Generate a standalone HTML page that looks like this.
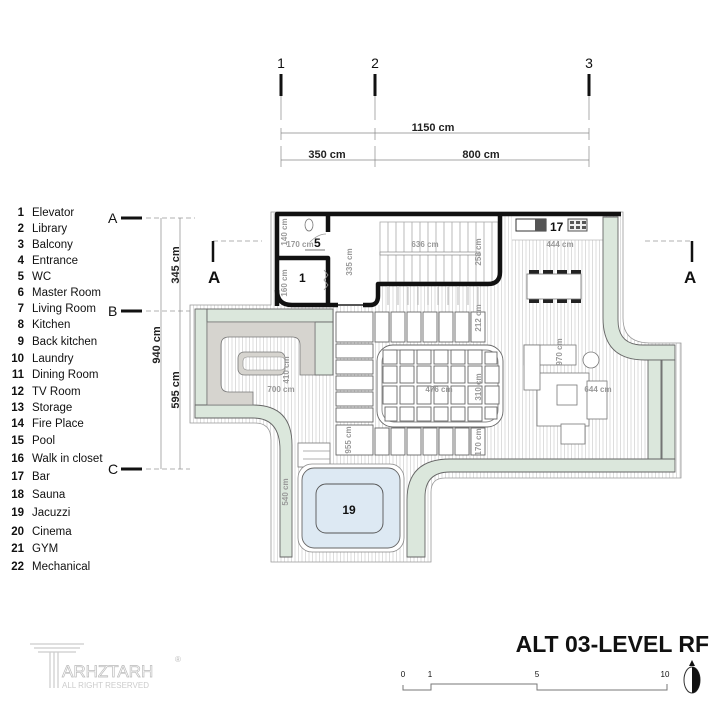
<!DOCTYPE html>
<html><head><meta charset="utf-8"><style>
html,body{margin:0;padding:0;background:#fff;}
svg{display:block;font-family:"Liberation Sans",Arial,sans-serif;}
</style></head><body>
<svg width="720" height="720" viewBox="0 0 720 720" xmlns="http://www.w3.org/2000/svg">
<defs>
<pattern id="h" width="3.5" height="10" patternUnits="userSpaceOnUse">
<rect width="3.5" height="10" fill="#fff"/><line x1="1" y1="0" x2="1" y2="10" stroke="#cfcfcf" stroke-width="0.7"/>
</pattern>
</defs>

<g font-size="14" text-anchor="middle" fill="#111">
<text x="281" y="68">1</text><text x="375" y="68">2</text><text x="589" y="68">3</text>
</g>
<g stroke="#111" stroke-width="3"><line x1="281" y1="74" x2="281" y2="96"/><line x1="375" y1="74" x2="375" y2="96"/><line x1="589" y1="74" x2="589" y2="96"/></g>
<g stroke="#888" stroke-width="0.7">
<line x1="281" y1="96" x2="281" y2="120"/><line x1="375" y1="96" x2="375" y2="120"/><line x1="589" y1="96" x2="589" y2="120"/>
<line x1="281" y1="128" x2="281" y2="140"/><line x1="375" y1="128" x2="375" y2="140"/><line x1="589" y1="128" x2="589" y2="140"/>
<line x1="281" y1="146" x2="281" y2="167"/><line x1="375" y1="146" x2="375" y2="167"/><line x1="589" y1="146" x2="589" y2="167"/>
<line x1="281" y1="133" x2="589" y2="133"/><line x1="281" y1="160" x2="589" y2="160"/>
</g>
<g font-size="11" font-weight="bold" text-anchor="middle" fill="#222">
<text x="433" y="131">1150 cm</text><text x="327" y="158">350 cm</text><text x="481" y="158">800 cm</text>
</g>

<g font-size="11.5" fill="#111">
<g font-weight="bold" text-anchor="end">
<text x="24" y="216">1</text><text x="24" y="232">2</text><text x="24" y="248">3</text><text x="24" y="264">4</text><text x="24" y="280">5</text><text x="24" y="296">6</text><text x="24" y="312">7</text><text x="24" y="328">8</text><text x="24" y="345">9</text><text x="24" y="362">10</text><text x="24" y="378">11</text><text x="24" y="395">12</text><text x="24" y="411">13</text><text x="24" y="427">14</text><text x="24" y="444">15</text><text x="24" y="462">16</text><text x="24" y="480">17</text><text x="24" y="498">18</text><text x="24" y="516">19</text><text x="24" y="535">20</text><text x="24" y="552">21</text><text x="24" y="570">22</text>
</g>
<text x="32" y="216">Elevator</text><text x="32" y="232">Library</text><text x="32" y="248">Balcony</text><text x="32" y="264">Entrance</text><text x="32" y="280">WC</text><text x="32" y="296">Master Room</text><text x="32" y="312">Living Room</text><text x="32" y="328">Kitchen</text><text x="32" y="345">Back kitchen</text><text x="32" y="362">Laundry</text><text x="32" y="378">Dining Room</text><text x="32" y="395">TV Room</text><text x="32" y="411">Storage</text><text x="32" y="427">Fire Place</text><text x="32" y="444">Pool</text><text x="32" y="462">Walk in closet</text><text x="32" y="480">Bar</text><text x="32" y="498">Sauna</text><text x="32" y="516">Jacuzzi</text><text x="32" y="535">Cinema</text><text x="32" y="552">GYM</text><text x="32" y="570">Mechanical</text>
</g>

<g font-size="14" fill="#111"><text x="108" y="223">A</text><text x="108" y="316">B</text><text x="108" y="474">C</text></g>
<g stroke="#111" stroke-width="3"><line x1="121" y1="218" x2="142" y2="218"/><line x1="121" y1="311" x2="142" y2="311"/><line x1="121" y1="469" x2="142" y2="469"/></g>
<g stroke="#999" stroke-width="0.7" stroke-dasharray="5,3"><line x1="146" y1="218" x2="195" y2="218"/><line x1="146" y1="311" x2="190" y2="311"/><line x1="146" y1="469" x2="190" y2="469"/></g>
<g stroke="#888" stroke-width="0.7"><line x1="161" y1="218" x2="161" y2="469"/><line x1="180" y1="218" x2="180" y2="469"/></g>
<g font-size="11" font-weight="bold" fill="#222" text-anchor="middle">
<text transform="translate(179,265) rotate(-90)">345 cm</text>
<text transform="translate(160,345) rotate(-90)">940 cm</text>
<text transform="translate(179,390) rotate(-90)">595 cm</text>
</g>

<g stroke="#999" stroke-width="0.8" stroke-dasharray="5,3"><line x1="213" y1="241" x2="262" y2="241"/><line x1="645" y1="241" x2="692" y2="241"/></g>
<g stroke="#111" stroke-width="2.5"><line x1="213" y1="241" x2="213" y2="262"/><line x1="692" y1="241" x2="692" y2="262"/></g>
<g font-size="17" font-weight="bold" fill="#111"><text x="208" y="283">A</text><text x="684" y="283">A</text></g>

<path d="M271,212 H623 V318 Q623,343 650,343 H681 V478 H445 Q431,478 431,492 V562 H271 V440 Q271,423 255,423 H190 V305 H271 Z" fill="url(#h)" stroke="#999" stroke-width="0.8"/>

<path d="M277,216 H500 V282 H380 V305 H277 Z" fill="#fff"/>
<rect x="512" y="216" width="92" height="24" fill="#fff"/>

<g stroke="#aaa" stroke-width="0.8">
<rect x="380" y="222" width="118" height="60" fill="#fff"/>
<path d="M388,222V282M396,222V282M404,222V282M412,222V282M420,222V282M428,222V282M436,222V282M444,222V282M452,222V282M460,222V282M468,222V282M476,222V282M484,222V282M492,222V282"/>
<path d="M388,287V305M398,287V305M408,287V305M418,287V305M428,287V305M438,287V305M448,287V305M458,287V305M468,287V305M478,287V305"/>
</g>
<rect x="380" y="252" width="100" height="3" fill="#fff" stroke="#888" stroke-width="0.7"/>

<g fill="none" stroke="#111" stroke-width="4.5" stroke-linejoin="round">
<path d="M277,306 V214 H621"/>
<path d="M277,290 Q277,305 292,305 H338"/>
<path d="M363,305 H370 Q378,305 378,296 V284 H488 Q500,284 500,272 V214"/>
<path d="M277,258 H328 V305"/>
<path d="M328,214 V232"/>
</g>
<line x1="338" y1="305" x2="363" y2="305" stroke="#555" stroke-width="2"/>
<line x1="512" y1="240" x2="604" y2="240" stroke="#bbb" stroke-width="0.8"/>
<ellipse cx="309" cy="225" rx="4" ry="6" fill="#fff" stroke="#777" stroke-width="0.8"/>
<line x1="305" y1="250" x2="325" y2="250" stroke="#777" stroke-width="1"/>
<path d="M310,242 Q318,234 326,234" fill="none" stroke="#999" stroke-width="0.7"/>
<text x="314" y="247" font-size="12" font-weight="bold" fill="#111">5</text>
<text x="299" y="282" font-size="12" font-weight="bold" fill="#111">1</text>
<path d="M324,270 L328,275 L324,280 L328,285 L324,290" fill="none" stroke="#999" stroke-width="0.8"/>

<rect x="516" y="219" width="30" height="12" fill="#fff" stroke="#333" stroke-width="1"/>
<rect x="535" y="219" width="11" height="12" fill="#555"/>
<text x="550" y="231" font-size="12" font-weight="bold" fill="#111">17</text>
<rect x="568" y="219" width="19" height="12" fill="#eee" stroke="#555" stroke-width="1"/>
<g fill="#555"><rect x="570" y="221" width="4" height="3"/><rect x="576" y="221" width="4" height="3"/><rect x="582" y="221" width="4" height="3"/><rect x="570" y="226" width="4" height="3"/><rect x="576" y="226" width="4" height="3"/><rect x="582" y="226" width="4" height="3"/></g>

<g fill="#dbe7dc" stroke="#666" stroke-width="0.9">
<path d="M603,217 H618 V320 Q618,345 643,345 H675 V360 H645 Q603,360 603,318 Z"/>
<rect x="648" y="360" width="13" height="100"/><rect x="662" y="360" width="13" height="100"/>
<path d="M450,459 H675 V472 H450 Q425,472 425,497 V557 H407 V500 Q407,459 450,459 Z"/>
<rect x="195" y="309" width="12" height="109"/>
<rect x="207" y="309" width="126" height="13"/>
<rect x="315" y="322" width="18" height="53"/>
<path d="M195,405 H253 Q292,405 292,445 V557 H280 V450 Q280,418 253,418 H195 Z"/>
</g>
<path d="M207,322 H315 V375 H300 V345 Q300,337 292,337 H229 Q221,337 221,345 V384 Q221,392 229,392 H253 V405 H207 Z" fill="#d6d4cf" stroke="#777" stroke-width="0.8"/>
<rect x="238" y="352" width="47" height="23" rx="6" fill="#d6d4cf" stroke="#777" stroke-width="0.8"/>
<rect x="243" y="357" width="42" height="13" rx="4" fill="url(#h)" stroke="#888" stroke-width="0.6"/>

<g fill="#fff" stroke="#666" stroke-width="0.9">
<rect x="336" y="312" width="37" height="30"/>
<rect x="375" y="312" width="14" height="30"/><rect x="391" y="312" width="14" height="30"/><rect x="407" y="312" width="14" height="30"/><rect x="423" y="312" width="14" height="30"/><rect x="439" y="312" width="14" height="30"/><rect x="455" y="312" width="14" height="30"/><rect x="471" y="312" width="14" height="30"/>
<rect x="336" y="344" width="37" height="14"/><rect x="336" y="360" width="37" height="14"/><rect x="336" y="376" width="37" height="14"/><rect x="336" y="392" width="37" height="14"/><rect x="336" y="408" width="37" height="14"/>
<rect x="336" y="425" width="37" height="30"/>
<rect x="375" y="428" width="14" height="27"/><rect x="391" y="428" width="14" height="27"/><rect x="407" y="428" width="14" height="27"/><rect x="423" y="428" width="14" height="27"/><rect x="439" y="428" width="14" height="27"/><rect x="455" y="428" width="14" height="27"/><rect x="471" y="428" width="14" height="27"/>
<rect x="377" y="345" width="126" height="82" rx="16"/>
<rect x="382" y="350" width="116" height="72" rx="12" fill="none" stroke="#888"/>
</g>
<g fill="#fff" stroke="#666" stroke-width="0.9">
<rect x="383" y="350" width="14" height="14"/><rect x="400" y="350" width="14" height="14"/><rect x="417" y="350" width="14" height="14"/><rect x="434" y="350" width="14" height="14"/><rect x="451" y="350" width="14" height="14"/><rect x="468" y="350" width="14" height="14"/><rect x="485" y="352" width="12" height="12"/>
<rect x="383" y="366" width="14" height="17"/><rect x="400" y="366" width="14" height="17"/><rect x="417" y="366" width="14" height="17"/><rect x="434" y="366" width="14" height="17"/><rect x="451" y="366" width="14" height="17"/><rect x="468" y="366" width="14" height="17"/><rect x="485" y="366" width="14" height="17"/>
<rect x="383" y="386" width="14" height="18"/><rect x="400" y="386" width="14" height="18"/><rect x="417" y="386" width="14" height="18"/><rect x="434" y="386" width="14" height="18"/><rect x="451" y="386" width="14" height="18"/><rect x="468" y="386" width="14" height="18"/><rect x="485" y="386" width="14" height="18"/>
<rect x="385" y="407" width="12" height="14"/><rect x="400" y="407" width="14" height="14"/><rect x="417" y="407" width="14" height="14"/><rect x="434" y="407" width="14" height="14"/><rect x="451" y="407" width="14" height="14"/><rect x="468" y="407" width="14" height="14"/><rect x="485" y="407" width="12" height="12"/>
</g>

<rect x="298" y="443" width="32" height="24" fill="#fff" stroke="#777" stroke-width="0.8"/>
<line x1="303" y1="451" x2="330" y2="451" stroke="#999" stroke-width="0.7"/><line x1="303" y1="459" x2="330" y2="459" stroke="#999" stroke-width="0.7"/>
<rect x="298" y="464" width="106" height="88" rx="14" fill="#fff" stroke="#888" stroke-width="0.8"/>
<rect x="302" y="468" width="98" height="80" rx="12" fill="#dde9f3" stroke="#666" stroke-width="0.9"/>
<rect x="316" y="484" width="67" height="49" rx="10" fill="#dde9f3" stroke="#555" stroke-width="0.9"/>
<text x="349" y="514" font-size="12" font-weight="bold" text-anchor="middle" fill="#111">19</text>

<g fill="#222"><rect x="529" y="270" width="10" height="4"/><rect x="543" y="270" width="10" height="4"/><rect x="557" y="270" width="10" height="4"/><rect x="571" y="270" width="10" height="4"/><rect x="529" y="299" width="10" height="4"/><rect x="543" y="299" width="10" height="4"/><rect x="557" y="299" width="10" height="4"/><rect x="571" y="299" width="10" height="4"/></g>
<rect x="527" y="274" width="54" height="25" fill="#fff" stroke="#777" stroke-width="0.8"/>
<g fill="#fff" stroke="#777" stroke-width="0.8">
<rect x="537" y="373" width="52" height="53"/>
<rect x="524" y="345" width="52" height="20"/>
<rect x="524" y="345" width="16" height="45"/>
<rect x="557" y="385" width="20" height="20"/>
<rect x="587" y="381" width="20" height="38"/>
<rect x="561" y="424" width="24" height="20"/>
<circle cx="591" cy="360" r="8"/>
</g>

<g font-size="8" fill="#999" font-weight="bold" text-anchor="middle">
<text x="300" y="247">170 cm</text><text x="425" y="247">636 cm</text><text x="560" y="247">444 cm</text>
<text x="281" y="392">700 cm</text><text x="439" y="392">476 cm</text><text x="598" y="392">644 cm</text>
<text transform="translate(287,232) rotate(-90)">140 cm</text>
<text transform="translate(287,283) rotate(-90)">160 cm</text>
<text transform="translate(352,262) rotate(-90)">335 cm</text>
<text transform="translate(481,252) rotate(-90)">258 cm</text>
<text transform="translate(481,318) rotate(-90)">212 cm</text>
<text transform="translate(481,387) rotate(-90)">310 cm</text>
<text transform="translate(481,442) rotate(-90)">170 cm</text>
<text transform="translate(289,370) rotate(-90)">410 cm</text>
<text transform="translate(351,440) rotate(-90)">955 cm</text>
<text transform="translate(288,492) rotate(-90)">540 cm</text>
<text transform="translate(562,352) rotate(-90)">970 cm</text>
</g>

<text x="709" y="652" font-size="23" font-weight="bold" text-anchor="end" fill="#111">ALT 03-LEVEL RF</text>
<path d="M403,685 V690 H431 V684 H537 V690 H667 V684" fill="none" stroke="#777" stroke-width="1"/>
<g font-size="8" fill="#111" text-anchor="middle"><text x="403" y="677">0</text><text x="430" y="677">1</text><text x="537" y="677">5</text><text x="665" y="677">10</text></g>
<ellipse cx="692" cy="680" rx="8" ry="13" fill="#fff" stroke="#333" stroke-width="1"/>
<path d="M692,667 A8,13 0 0 1 692,693 Z" fill="#111"/>
<path d="M692,660 L689,666 H695 Z" fill="#111"/>

<g fill="none" stroke="#ccc" stroke-width="1.2">
<line x1="30" y1="644" x2="84" y2="644"/><line x1="34" y1="648" x2="80" y2="648"/><line x1="38" y1="652" x2="76" y2="652"/>
<line x1="50" y1="652" x2="50" y2="688"/><line x1="54" y1="652" x2="54" y2="688"/><line x1="58" y1="652" x2="58" y2="688"/>
</g>
<text x="62" y="677" font-size="17" fill="none" stroke="#bbb" stroke-width="0.7">ARHZTARH</text>
<text x="62" y="688" font-size="8" fill="#ccc">ALL RIGHT RESERVED</text>
<text x="175" y="662" font-size="8" fill="#bbb">®</text>
</svg>
</body></html>
